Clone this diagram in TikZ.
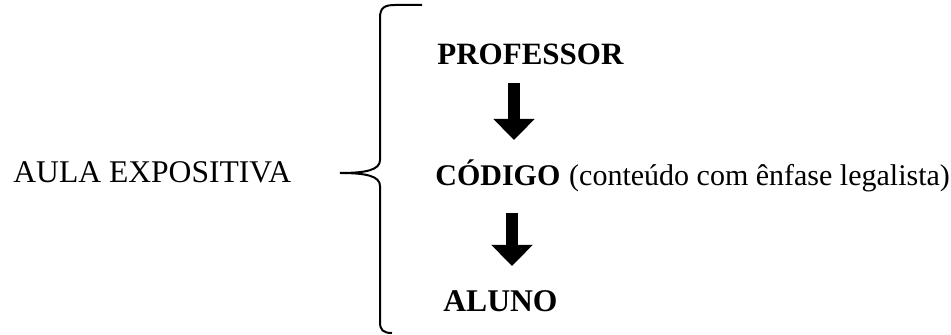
\documentclass[tikz,border=0pt]{standalone}
\usepackage{fontspec}
\setmainfont{Liberation Serif}
\usetikzlibrary{positioning, arrows, arrows.meta}

\tikzset{
    seta/.style={-{Triangle[width=20pt, length=10.5pt]}, line width=6pt},
    texto/.style={inner sep=0pt, anchor=base west, font=\fontsize{15}{18}\selectfont},
    negrito/.style={texto, font=\fontsize{#1}{18}\selectfont\bfseries}
}

\begin{document}
\begin{tikzpicture}[x=0.5pt, y=-0.5pt, >=latex']
    \useasboundingbox (0,0) rectangle (951,335);

    \node [texto,
        font=\fontsize{15.8}{18}\selectfont
    ] (aula) at (13,183) {AULA EXPOSITIVA};

    \node [negrito=15.5] (professor) at (437,65) {PROFESSOR};

    \node [negrito=15] (codigo) at (435,186) {CÓDIGO};

    \node [texto,
        xshift=4pt
    ] (enfase) at (codigo.base east) {(conteúdo com ênfase legalista)};

    \node [negrito=15.8] (aluno) at (443,312) {ALUNO};

    % pontas das setas
    \coordinate (ponta1) at (514,140);
    \coordinate (ponta2) at (512,266);

    % setas grossas
    \draw [seta, shorten <=8.5pt] (professor.south -| ponta1) -- (ponta1);
    \draw [seta, shorten <=10pt] (enfase.south -| ponta2) -- (ponta2);

    % chave
    \draw [line width=1pt]
        (422,5) -- (395,5)
        .. controls (384,5) and (380,8) .. (380,18)
        -- (380,160)
        .. controls (380,170) and (366,173) .. (340,173)
        .. controls (366,173) and (380,176) .. (380,186)
        -- (380,322)
        .. controls (380,330) and (383,333) .. (392,333);

\end{tikzpicture}
\end{document}
